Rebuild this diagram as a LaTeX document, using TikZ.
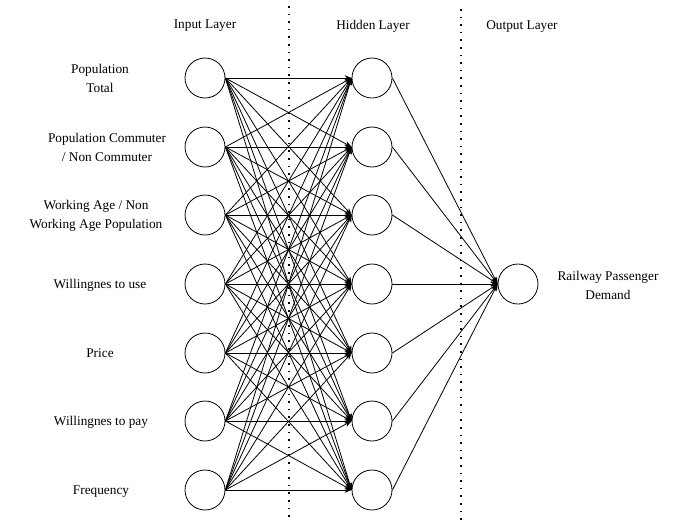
\documentclass[tikz,border=0pt]{standalone}
\usepackage{fontspec}
\setmainfont{Liberation Serif}
\newfontfamily\timesfont{Liberation Serif}
\usetikzlibrary{arrows.meta}
\tikzset{>={Stealth[length=7pt,width=5.5pt]}}

\begin{document}
\begin{tikzpicture}[x=1pt, y=-1pt,
    neuron/.style={circle, draw, line width=0.8pt, minimum size=40pt, inner sep=0pt},
    lbl/.style={align=center, font=\timesfont\fontsize{13.3}{19}\selectfont},
    sep/.style={line width=1.6pt, dash pattern=on 1.6pt off 6pt}]

            \useasboundingbox (0,0) rectangle (683,523);

            % input layer
            \node[neuron] (I1) at (205,78) {};
            \node[neuron] (I2) at (205,147) {};
            \node[neuron] (I3) at (205,215) {};
            \node[neuron] (I4) at (205,284) {};
            \node[neuron] (I5) at (205,353) {};
            \node[neuron] (I6) at (205,421) {};
            \node[neuron] (I7) at (205,490) {};

            % hidden layer
            \node[neuron] (H1) at (372,78) {};
            \node[neuron] (H2) at (372,147) {};
            \node[neuron] (H3) at (372,215) {};
            \node[neuron] (H4) at (372,284) {};
            \node[neuron] (H5) at (372,353) {};
            \node[neuron] (H6) at (372,421) {};
            \node[neuron] (H7) at (372,490) {};

            % output layer
            \node[neuron] (O) at (518,284) {};

            \foreach \i in {1,...,7}{
                \foreach \j in {1,...,7}{
                    \draw [->, line width=0.8pt] (I\i.east)--(H\j.west);
                }
                \draw [->, line width=0.8pt] (H\i.east)--(O.west);
            }

            \node[lbl] (L1) at (100,78) {Population\\Total};
            \node[lbl] (L2) at (107,147) {Population Commuter\\/ Non Commuter};
            \node[lbl] (L3) at (96,216) {Working Age / Non\\Working Age Population};
            \node[lbl] (L4) at (100,285) {Willingnes to use};
            \node[lbl] (L5) at (100,353) {Price};
            \node[lbl] (L6) at (101,422) {Willingnes to pay};
            \node[lbl] (L7) at (101,492) {Frequency};
            \node[lbl] (LO) at (608,285) {Railway Passenger\\Demand};

            \node[lbl] (TI) at (205,26) {Input Layer};
            \node[lbl] (TH) at (373,26) {Hidden Layer};
            \node[lbl] (TO) at (522,27) {Output Layer};

            \coordinate (D1a) at (289,6);
            \coordinate (D1b) at (289,521);
            \coordinate (D2a) at (461,9);
            \coordinate (D2b) at (461,521);
            \draw[sep] (D1a)--(D1b);
            \draw[sep] (D2a)--(D2b);
            \end{tikzpicture}
\end{document}
